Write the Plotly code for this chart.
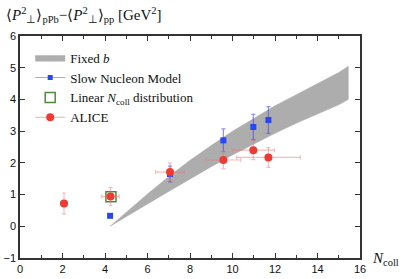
import plotly.graph_objects as go

# ---- data ----
band_x = [4.24, 5, 6, 7, 8, 9, 10, 11, 12, 13, 14, 15, 15.45]
band_upper = [0.0, 0.45, 1.02, 1.57, 2.08, 2.55, 3.0, 3.4, 3.8, 4.15, 4.5, 4.85, 5.05]
band_lower = [0.0, 0.3, 0.7, 1.1, 1.5, 1.88, 2.25, 2.6, 2.93, 3.25, 3.55, 3.83, 4.0]

snm_x = [4.24, 7.06, 9.57, 10.98, 11.69]
snm_y = [0.33, 1.65, 2.71, 3.13, 3.35]
snm_err = [0.0, 0.25, 0.36, 0.40, 0.42]

lin_x = [4.28]
lin_y = [0.93]

alice_x = [2.07, 4.26, 7.06, 9.57, 10.98, 11.69]
alice_y = [0.72, 0.94, 1.71, 2.09, 2.40, 2.17]
alice_xerr = [0.16, 0.41, 0.68, 0.82, 0.99, 1.50]
alice_yerr = [0.33, 0.28, 0.28, 0.27, 0.30, 0.31]

x_ticks = [0, 2, 4, 6, 8, 10, 12, 14, 16]
y_ticks = [-1, 0, 1, 2, 3, 4, 5, 6]

RED = "#ee3a33"
BLUE = "#2847f0"
GREEN = "#4f8a3c"
GRAY = "#adadad"
SERIF = "Liberation Serif"

fig = go.Figure()

# Fixed b band
fig.add_trace(go.Scatter(
    x=band_x + band_x[::-1], y=band_upper + band_lower[::-1],
    fill="toself", fillcolor=GRAY, line=dict(color=GRAY, width=0.5),
    mode="lines", name="Fixed <i>b</i>", hoverinfo="skip"))

# Slow Nucleon Model
fig.add_trace(go.Scatter(
    x=snm_x, y=snm_y, mode="markers", showlegend=False,
    marker=dict(symbol="square", size=6, color=BLUE),
    error_y=dict(type="data", array=snm_err, color="rgba(70,70,230,0.6)", thickness=1.2, width=2)))
fig.add_trace(go.Scatter(
    x=[None], y=[None], mode="lines+markers", name="Slow Nucleon Model",
    marker=dict(symbol="square", size=5, color=BLUE),
    line=dict(color="rgba(90,110,240,0.6)", width=1)))

# Linear Ncoll distribution
fig.add_trace(go.Scatter(
    x=lin_x, y=lin_y, mode="markers", name="Linear <i>N</i><sub>coll</sub> distribution",
    marker=dict(symbol="square-open", size=10, color=GREEN, line=dict(width=1.5, color=GREEN))))

# ALICE
fig.add_trace(go.Scatter(
    x=alice_x, y=alice_y, mode="markers", showlegend=False,
    marker=dict(symbol="circle", size=8, color=RED),
    error_x=dict(type="data", array=alice_xerr, color="rgba(240,120,120,0.5)", thickness=1.2, width=2),
    error_y=dict(type="data", array=alice_yerr, color="rgba(240,120,120,0.5)", thickness=1.2, width=2)))
fig.add_trace(go.Scatter(
    x=[None], y=[None], mode="lines+markers", name="ALICE",
    marker=dict(symbol="circle", size=8, color=RED),
    line=dict(color="rgba(240,120,120,0.6)", width=1)))

axis_common = dict(
    showgrid=False, zeroline=False, showline=True, linecolor="#333333", linewidth=1.5,
    mirror="allticks", ticks="inside", tickcolor="#333333", tickwidth=1, automargin=False,
    tickfont=dict(family="Liberation Sans", size=11, color="#111111"))

fig.update_xaxes(range=[0, 16], tickvals=x_ticks, ticklen=5,
                 minor=dict(ticks="inside", dtick=1, ticklen=3, tickcolor="#333333"),
                 **axis_common)
fig.update_yaxes(range=[-1, 6], tickvals=y_ticks, ticklen=5, **axis_common)

fig.add_annotation(
    xref="paper", yref="paper", x=-0.048, y=1.095, xanchor="left", yanchor="middle",
    text="⟨<i>P</i><sup>2</sup><sub>⊥</sub>⟩<sub>pPb</sub>−⟨<i>P</i><sup>2</sup><sub>⊥</sub>⟩<sub>pp</sub> [GeV<sup>2</sup>]",
    showarrow=False, font=dict(family=SERIF, size=15, color="#111111"))
fig.add_annotation(
    xref="paper", yref="paper", x=1.03, y=-0.005, xanchor="left", yanchor="middle",
    text="<i>N</i><sub>coll</sub>", showarrow=False,
    font=dict(family=SERIF, size=15, color="#111111"))

fig.update_layout(
    width=409, height=279,
    margin=dict(l=20, r=49, t=36, b=21),
    paper_bgcolor="white", plot_bgcolor="white",
    legend=dict(x=0.03, y=0.97, xanchor="left", yanchor="top",
                font=dict(family=SERIF, size=13, color="#111111"),
                bgcolor="rgba(0,0,0,0)", tracegroupgap=0, itemwidth=30),
)

fig.write_html("out.html", config={"displayModeBar": False},
               post_script="document.body.style.margin='0';document.body.style.overflow='hidden';")
